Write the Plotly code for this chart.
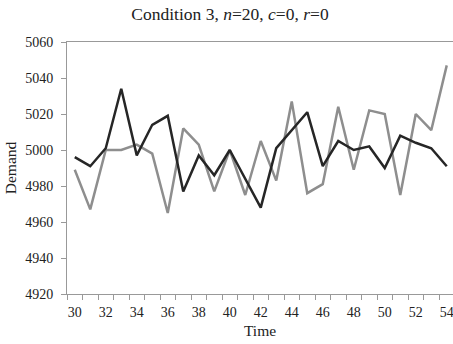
import plotly.graph_objects as go

time = list(range(30, 55))
series_dark = [4996, 4991, 5001, 5034, 4997, 5014, 5019, 4977, 4997, 4986, 5000, 4984,
               4968, 5001, 5011, 5021, 4991, 5005, 5000, 5002, 4990, 5008, 5004, 5001, 4991]
series_gray = [4989, 4967, 5000, 5000, 5003, 4998, 4965, 5012, 5003, 4977, 5000, 4975,
               5005, 4983, 5027, 4976, 4981, 5024, 4989, 5022, 5020, 4975, 5020, 5011, 5047]
y_ticks = [4920, 4940, 4960, 4980, 5000, 5020, 5040, 5060]
x_ticks = list(range(30, 55, 2))

fig = go.Figure()
fig.add_trace(go.Scatter(x=time, y=series_gray, mode="lines",
                         line=dict(color="#8e8e8e", width=2.5), showlegend=False))
fig.add_trace(go.Scatter(x=time, y=series_dark, mode="lines",
                         line=dict(color="#262626", width=2.5), showlegend=False))

font = "Liberation Serif, Times New Roman, serif"
fig.update_layout(
    width=453, height=344,
    margin=dict(l=67, r=0, t=42, b=50, autoexpand=False),
    paper_bgcolor="white", plot_bgcolor="white",
    font=dict(family=font, size=14, color="#222"),
    title=dict(text="Condition 3, <i>n</i>=20, <i>c</i>=0, <i>r</i>=0",
               x=230 / 453, xanchor="center", y=1 - 14 / 344, yanchor="middle",
               font=dict(family=font, size=17.5, color="#222")),
)
fig.update_xaxes(
    automargin=False, ticklabeloverflow="allow",
    range=[29.5, 29.5 + 386 / 15.5],
    tickmode="array", tickvals=x_ticks, ticktext=[str(v) for v in x_ticks],
    ticks="outside", ticklen=5, tickcolor="rgba(0,0,0,0)",
    minor=dict(tickmode="linear", tick0=29.5, dtick=1, ticks="outside",
               ticklen=5, tickcolor="#999", tickwidth=1),
    showline=True, linecolor="#999", linewidth=1, mirror=True,
    showgrid=False, zeroline=False,
    title=dict(text="Time", font=dict(family=font, size=15.5, color="#222"), standoff=6),
    tickfont=dict(family=font, size=14, color="#222"),
)
fig.update_yaxes(
    automargin=False,
    range=[4920, 5060], tickmode="array", tickvals=y_ticks,
    ticks="outside", ticklen=5, tickcolor="#999", tickwidth=1,
    showline=True, linecolor="#999", linewidth=1,
    showgrid=False, zeroline=False,
    ticklabelstandoff=5,
    title=dict(text="Demand", font=dict(family=font, size=15.5, color="#222"), standoff=4),
    tickfont=dict(family=font, size=14, color="#222"),
)
fig.write_html("out.html", config={"displayModeBar": False},
               post_script="document.body.style.margin='0';document.body.style.padding='0';")
